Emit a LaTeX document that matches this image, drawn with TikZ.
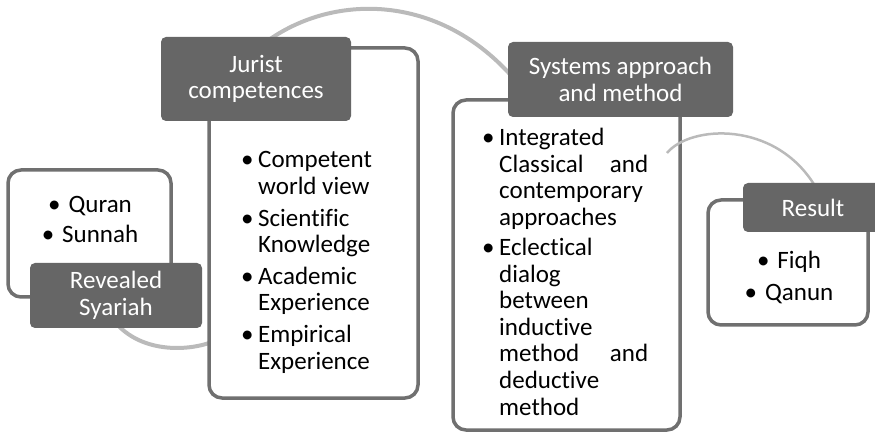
\documentclass[tikz,border=0pt]{standalone}
\usepackage{fontspec}
\setmainfont{Carlito}[Ligatures=NoCommon]

\newcommand{\bul}{\makebox[17pt][l]{\textbullet}}
\newcommand{\ind}{\hspace*{17pt}}

\begin{document}
\begin{tikzpicture}[
    x=1pt, y=-1pt,
    outline/.style={draw=black!56, line width=3.5pt, rounded corners=13pt, fill=white, inner sep=0pt},
    head/.style={fill=black!60, rounded corners=5pt, text=white, align=center, inner sep=0pt, font=\fontsize{25}{26.5}\selectfont},
    item/.style={anchor=base west, inner sep=0pt, font=\fontsize{25}{26.5}\selectfont},
    citem/.style={item, anchor=base},
    arcline/.style={draw=black!27, line width=4pt}
    ]
    \useasboundingbox (0,0) rectangle (875,435);

    % arcs behind the boxes
    \coordinate (arcA-start) at (115,322);
    \coordinate (arcA-end) at (212,342);
    \draw[arcline] (arcA-start) .. controls (140,352) and (185,352) .. (arcA-end);

    \coordinate (arcB-start) at (262,45);
    \coordinate (arcB-end) at (515,80);
    \draw[arcline] (arcB-start) .. controls (330,-8) and (440,-8) .. (arcB-end);

    % outline boxes
    \node[outline, minimum width=163pt, minimum height=127pt] (quranbox) at (89.5,233.5) {};
    \node[outline, minimum width=209pt, minimum height=350pt] (juristbox) at (313.5,223) {};
    \node[outline, minimum width=227pt, minimum height=330pt] (systemsbox) at (566.5,265) {};
    \node[outline, minimum width=160pt, minimum height=125pt] (resultbox) at (788,262.5) {};

    \coordinate (arcC-start) at (667,153);
    \coordinate (arcC-end) at (815,186);
    \draw[arcline, line width=2.5pt] (arcC-start) .. controls (690,125) and (775,120) .. (arcC-end);

    % headers
    \node[head, minimum width=172pt, minimum height=65pt] (syariah) at (116,295.5) {Revealed\\Syariah};
    \node[head, minimum width=190pt, minimum height=84pt] (jurist) at (256,79) {Jurist\\competences};
    \node[head, minimum width=225pt, minimum height=75pt] (systems) at (620.5,79.5) {Systems approach\\and method};
    \node[head, minimum width=140pt, minimum height=49pt] (result) at (813,207.5) {Result};

    % lists
    \foreach \yy/\txt [count=\i] in {213/{\textbullet\hspace{8pt}Quran}, 243/{\textbullet\hspace{8pt}Sunnah}}
        \node[citem] (src\i) at (90,\yy) {\txt};

    \foreach \yy/\txt [count=\i] in {168/{\bul Competent}, 195/{\ind world view},
        227/{\bul Scientific}, 253/{\ind Knowledge}, 285/{\bul Academic},
        311/{\ind Experience}, 343/{\bul Empirical}, 369/{\ind Experience}}
        \node[item] (jur\i) at (241,\yy) {\txt};

    \foreach \yy/\txt [count=\i] in {146/{\bul Integrated}, 172.5/{\ind\makebox[149pt][s]{Classical and}},
        199/{\ind contemporary}, 225.5/{\ind approaches}, 256/{\bul Eclectical},
        282.5/{\ind dialog}, 309/{\ind between}, 335.5/{\ind inductive},
        362/{\ind\makebox[149pt][s]{method and}}, 388.5/{\ind deductive}, 415/{\ind method}}
        \node[item] (sys\i) at (482,\yy) {\txt};

    \foreach \yy/\txt [count=\i] in {269/{\textbullet\hspace{8pt}Fiqh}, 301/{\textbullet\hspace{8pt}Qanun}}
        \node[citem] (res\i) at (789,\yy) {\txt};
\end{tikzpicture}
\end{document}
